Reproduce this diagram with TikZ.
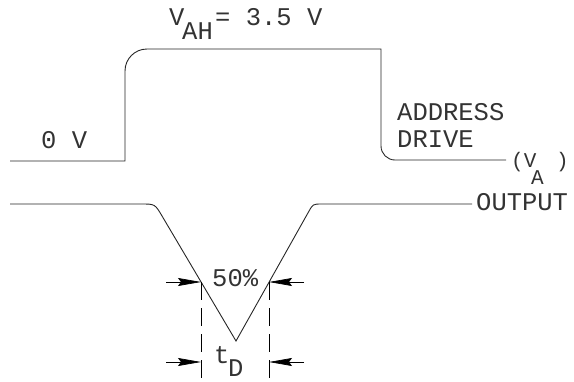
\documentclass[tikz,border=0pt]{standalone}
\usepackage{fontspec}
\newfontfamily\plotfont{Liberation Mono}
\usetikzlibrary{arrows.meta}
\begin{document}
\begin{tikzpicture}[x=1pt,y=-1pt,
  wave/.style={line width=0.9pt, black!85},
  lbl/.style={anchor=base west, inner sep=0pt, font=\plotfont\fontsize{25.5}{25.5}\selectfont, text=black!80},
  smlbl/.style={anchor=base west, inner sep=0pt, font=\plotfont\fontsize{21}{21}\selectfont, text=black!80},
  dimarrow/.style={line width=0.7pt, black, -{Stealth[length=23pt,width=8pt,inset=3pt]}},
  dimline/.style={line width=0.7pt, black, dash pattern=on 18pt off 8pt}]
\useasboundingbox (0,0) rectangle (574,381);

% address drive waveform
\coordinate (a0) at (10,161);
\coordinate (a1) at (125,161);
\coordinate (a2) at (125,71);
\coordinate (a3) at (147,49);
\coordinate (a4) at (381,49);
\coordinate (a5) at (381,146);
\coordinate (a6) at (395,160);
\coordinate (a7) at (506,160);
\draw[wave] (a0) -- (a1) -- (a2) .. controls (125,58.8) and (134.8,49) .. (a3)
  -- (a4) -- (a5) .. controls (381,153.7) and (387.3,160) .. (a6) -- (a7);

% output waveform
\coordinate (o0) at (10,204);
\coordinate (o1) at (141,204);
\coordinate (o2) at (162.1,216.1);
\coordinate (ob) at (236,341);
\coordinate (o3) at (308.6,211.8);
\coordinate (o4) at (322,204);
\coordinate (o5) at (472,204);
\draw[wave] (o0) -- (o1) .. controls (155,204) .. (o2) -- (ob) -- (o3)
  .. controls (313,204) .. (o4) -- (o5);

% dimension
\coordinate (pL) at (201,282);
\coordinate (pR) at (269,282);
\coordinate (eL) at (201,381);
\coordinate (eR) at (269,381);
\coordinate (bL) at (201,362);
\coordinate (bR) at (269,362);
\coordinate (tL1) at (166,282);
\coordinate (tR1) at (304,282);
\coordinate (tL2) at (166,362);
\coordinate (tR2) at (304,362);
\draw[dimline] (pL) -- (eL);
\draw[dimline] (pR) -- (eR);
\draw[dimarrow] (tL1) -- (pL);
\draw[dimarrow] (tR1) -- (pR);
\draw[dimarrow] (tL2) -- (bL);
\draw[dimarrow] (tR2) -- (bR);

% labels
\node[lbl] (vah) at (169,25) {V};
\node[lbl] (vahs) at (182,39) {AH};
\node[lbl] (vval) at (215,25) {= 3.5 V};
\node[lbl] (zero) at (41,148) {0 V};
\node[lbl] (addr) at (397,120) {ADDRESS};
\node[lbl] (drive) at (397,147) {DRIVE};
\node[smlbl] (va1) at (511,167) {(V};
\node[smlbl] (vas) at (531,184) {A};
\node[smlbl] (va2) at (556,167) {)};
\node[lbl] (outp) at (476,210) {OUTPUT};
\node[lbl] (pct) at (212,286) {50\%};
\node[lbl] (td) at (214,363) {t};
\node[lbl] (tds) at (228,376) {D};
\end{tikzpicture}
\end{document}
